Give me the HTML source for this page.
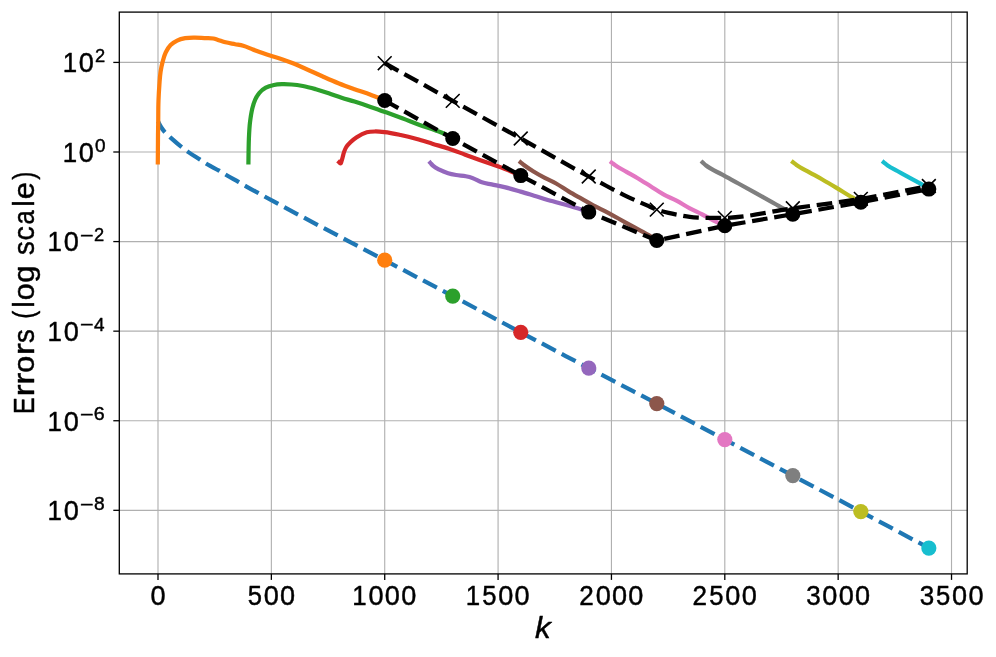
<!DOCTYPE html>
<html lang="en"><head><meta charset="utf-8"><title>Errors (log scale) vs k</title>
<style>html,body{margin:0;padding:0;background:#fff}body{width:996px;height:657px;overflow:hidden}svg{display:block;will-change:transform}text{font-family:"Liberation Sans",sans-serif;fill:#000;stroke:#000;stroke-width:0.45px;stroke-linejoin:round}</style>
</head><body>
<svg width="996" height="657" viewBox="0 0 996 657">
<rect x="0" y="0" width="996" height="657" fill="#ffffff"/>
<g stroke="#b0b0b0" stroke-width="1.13" fill="none">
<line x1="158.00" y1="12.10" x2="158.00" y2="573.90"/>
<line x1="271.36" y1="12.10" x2="271.36" y2="573.90"/>
<line x1="384.72" y1="12.10" x2="384.72" y2="573.90"/>
<line x1="498.08" y1="12.10" x2="498.08" y2="573.90"/>
<line x1="611.44" y1="12.10" x2="611.44" y2="573.90"/>
<line x1="724.80" y1="12.10" x2="724.80" y2="573.90"/>
<line x1="838.16" y1="12.10" x2="838.16" y2="573.90"/>
<line x1="951.52" y1="12.10" x2="951.52" y2="573.90"/>
<line x1="119.30" y1="62.42" x2="967.20" y2="62.42"/>
<line x1="119.30" y1="152.00" x2="967.20" y2="152.00"/>
<line x1="119.30" y1="241.58" x2="967.20" y2="241.58"/>
<line x1="119.30" y1="331.16" x2="967.20" y2="331.16"/>
<line x1="119.30" y1="420.74" x2="967.20" y2="420.74"/>
<line x1="119.30" y1="510.32" x2="967.20" y2="510.32"/>
</g>
<defs><clipPath id="ax"><rect x="119.30" y="12.10" width="847.90" height="561.80"/></clipPath></defs>
<g clip-path="url(#ax)" fill="none" stroke-linejoin="round">
<path id="blue" d="M158.00 121.30 C159.00 123.20 159.85 125.19 161.00 127.00 C162.07 128.69 163.31 130.27 164.60 131.80 C166.90 134.52 169.66 136.81 172.30 139.20 C175.40 142.01 178.60 144.73 181.90 147.30 C184.03 148.95 186.20 150.55 188.40 152.10 C192.07 154.68 195.92 156.98 199.70 159.40 C202.36 161.11 204.98 162.88 207.70 164.50 C211.38 166.69 215.29 168.46 219.00 170.60 C221.73 172.18 224.38 173.90 227.10 175.50 C230.83 177.70 234.65 179.74 238.40 181.90 C241.11 183.45 243.79 185.06 246.50 186.60 C250.47 188.85 254.50 191.01 258.50 193.20 C300.26 216.10 342.60 237.93 384.70 260.20 C407.36 272.19 430.05 284.09 452.70 296.10 C475.39 308.13 498.01 320.29 520.70 332.30 C543.34 344.29 566.01 356.21 588.70 368.10 C611.38 379.98 634.14 391.69 656.80 403.60 C679.50 415.53 702.13 427.60 724.80 439.60 C747.47 451.60 770.13 463.60 792.80 475.60 C815.47 487.60 838.16 499.55 860.80 511.60 C883.56 523.72 906.27 535.93 929.00 548.10" stroke="#1f77b4" stroke-width="4.23" stroke-dasharray="15.65 6.77" stroke-dashoffset="2.6"/>
<circle cx="384.72" cy="260.20" r="7.6" fill="#ff7f0e" stroke="none"/>
<circle cx="452.74" cy="296.10" r="7.6" fill="#2ca02c" stroke="none"/>
<circle cx="520.75" cy="332.30" r="7.6" fill="#d62728" stroke="none"/>
<circle cx="588.77" cy="368.10" r="7.6" fill="#9467bd" stroke="none"/>
<circle cx="656.78" cy="403.60" r="7.6" fill="#8c564b" stroke="none"/>
<circle cx="724.80" cy="439.60" r="7.6" fill="#e377c2" stroke="none"/>
<circle cx="792.82" cy="475.60" r="7.6" fill="#7f7f7f" stroke="none"/>
<circle cx="860.83" cy="511.60" r="7.6" fill="#bcbd22" stroke="none"/>
<circle cx="928.85" cy="548.10" r="7.6" fill="#17becf" stroke="none"/>
<path d="M157.81 162.39 C157.84 158.26 157.87 154.13 157.90 150.00 C157.93 145.00 157.94 140.00 158.00 135.00 C158.05 131.07 158.14 127.13 158.20 123.20 C158.32 115.67 158.21 108.13 158.50 100.60 C158.70 95.23 158.99 89.86 159.40 84.50 C159.73 80.19 159.93 75.87 160.60 71.60 C161.11 68.34 161.75 65.09 162.60 61.90 C163.47 58.64 164.30 55.32 165.80 52.30 C167.10 49.69 168.53 47.05 170.60 45.00 C172.46 43.16 174.74 41.73 177.10 40.60 C179.64 39.38 182.43 38.70 185.20 38.20 C188.35 37.63 191.60 37.72 194.80 37.70 C198.04 37.68 201.27 37.96 204.50 38.10 C207.47 38.23 210.50 37.87 213.40 38.50 C214.76 38.79 216.07 39.29 217.40 39.70 C220.11 40.53 222.76 41.58 225.50 42.30 C228.69 43.14 231.97 43.56 235.20 44.20 C237.87 44.73 240.58 45.07 243.20 45.80 C246.53 46.73 249.66 48.28 252.90 49.50 C256.13 50.71 259.35 51.96 262.60 53.10 C265.81 54.23 269.05 55.27 272.30 56.30 C275.49 57.31 278.73 58.15 281.90 59.20 C285.16 60.28 288.40 61.45 291.60 62.70 C296.51 64.61 301.28 66.87 306.10 69.00 C311.52 71.39 316.88 73.92 322.30 76.30 C327.65 78.65 332.98 81.03 338.40 83.20 C343.72 85.33 349.11 87.26 354.50 89.20 C359.85 91.13 365.28 92.79 370.60 94.80 C375.34 96.59 380.00 98.60 384.70 100.50" stroke="#ff7f0e" stroke-width="4.23" stroke-linecap="square"/>
<path d="M248.43 162.39 C248.49 158.26 248.52 154.13 248.60 150.00 C248.68 146.13 248.73 142.26 248.90 138.40 C249.13 133.03 249.36 127.64 250.00 122.30 C250.52 117.97 251.05 113.63 252.10 109.40 C252.94 106.00 253.77 102.55 255.30 99.40 C256.43 97.07 257.69 94.74 259.40 92.80 C261.20 90.75 263.41 89.01 265.80 87.70 C268.30 86.33 271.11 85.59 273.90 85.00 C276.52 84.45 279.22 84.31 281.90 84.20 C285.13 84.07 288.37 84.25 291.60 84.50 C295.39 84.79 299.16 85.31 302.90 86.00 C307.26 86.81 311.53 88.01 315.80 89.20 C320.14 90.41 324.42 91.79 328.70 93.20 C333.03 94.62 337.27 96.29 341.60 97.70 C345.87 99.09 350.21 100.25 354.50 101.60 C359.89 103.29 365.25 105.08 370.60 106.90 C376.02 108.74 381.41 110.67 386.80 112.60 C392.18 114.53 397.55 116.49 402.90 118.50 C408.28 120.52 413.60 122.73 419.00 124.70 C424.37 126.66 429.83 128.35 435.20 130.30 C438.41 131.47 441.73 132.41 444.80 133.90 C447.56 135.24 450.07 137.03 452.70 138.60" stroke="#2ca02c" stroke-width="4.23" stroke-linecap="square"/>
<path d="M339.20 162.30 C339.60 162.67 339.86 163.36 340.40 163.40 C341.22 163.47 341.18 161.96 341.50 161.20 C342.00 160.01 342.25 158.74 342.60 157.50 C343.13 155.64 343.45 153.72 344.10 151.90 C344.71 150.22 345.36 148.52 346.30 147.00 C347.47 145.11 349.10 143.54 350.70 142.00 C352.54 140.22 354.56 138.61 356.70 137.20 C359.82 135.14 363.17 133.21 366.80 132.30 C369.40 131.65 372.12 131.57 374.80 131.50 C378.04 131.41 381.28 131.76 384.50 132.10 C389.92 132.67 395.27 133.86 400.60 135.00 C406.04 136.16 411.44 137.52 416.80 139.00 C422.21 140.49 427.53 142.28 432.90 143.90 C438.26 145.52 443.69 146.93 449.00 148.70 C454.46 150.52 459.79 152.73 465.20 154.70 C470.02 156.46 474.86 158.17 479.70 159.90 C487.96 162.85 496.35 165.46 504.50 168.70 C509.96 170.87 515.30 173.30 520.70 175.60" stroke="#d62728" stroke-width="4.23" stroke-linecap="square"/>
<path d="M430.34 162.85 C431.19 163.77 431.97 164.76 432.90 165.60 C434.80 167.32 437.13 168.51 439.40 169.70 C442.17 171.15 445.11 172.29 448.10 173.20 C450.71 174.00 453.41 174.51 456.10 175.00 C459.31 175.59 462.60 175.66 465.80 176.30 C467.99 176.74 470.18 177.21 472.30 177.90 C475.65 178.99 478.56 181.20 481.90 182.30 C485.04 183.33 488.36 183.71 491.60 184.40 C495.90 185.32 500.23 186.07 504.50 187.10 C509.92 188.40 515.25 190.04 520.60 191.60 C526.02 193.18 531.40 194.88 536.80 196.50 C542.16 198.11 547.52 199.75 552.90 201.30 C558.25 202.85 563.65 204.24 569.00 205.80 C573.31 207.06 577.64 208.27 581.90 209.70 C584.18 210.46 586.43 211.30 588.70 212.10" stroke="#9467bd" stroke-width="4.23" stroke-linecap="square"/>
<path d="M520.64 162.34 C521.73 163.22 522.79 164.14 523.90 165.00 C526.95 167.37 530.22 169.46 533.50 171.50 C537.17 173.79 540.98 175.87 544.80 177.90 C548.51 179.87 552.42 181.46 556.10 183.50 C560.54 185.96 564.64 189.00 569.00 191.60 C573.24 194.13 577.60 196.47 581.90 198.90 C585.67 201.03 589.38 203.27 593.20 205.30 C596.20 206.90 599.28 208.34 602.30 209.90 C607.71 212.69 613.05 215.59 618.40 218.50 C623.79 221.43 629.13 224.43 634.50 227.40 C639.87 230.37 645.41 233.04 650.60 236.30 C652.70 237.62 654.73 239.03 656.80 240.40" stroke="#8c564b" stroke-width="4.23" stroke-linecap="square"/>
<path d="M611.68 162.59 C612.85 163.49 614.00 164.44 615.20 165.30 C618.73 167.83 622.73 169.64 626.50 171.80 C630.23 173.94 634.01 176.00 637.70 178.20 C642.06 180.80 646.30 183.60 650.60 186.30 C654.90 189.00 659.05 191.96 663.50 194.40 C667.71 196.71 672.25 198.36 676.50 200.60 C680.90 202.92 685.02 205.75 689.40 208.10 C693.63 210.37 698.03 212.30 702.30 214.50 C706.63 216.73 710.81 219.28 715.20 221.40 C718.36 222.93 721.60 224.27 724.80 225.70" stroke="#e377c2" stroke-width="4.23" stroke-linecap="square"/>
<path d="M702.59 162.40 C703.76 163.43 704.89 164.52 706.10 165.50 C710.92 169.41 716.88 171.68 722.30 174.70 C727.64 177.68 733.04 180.55 738.40 183.50 C743.77 186.45 749.13 189.43 754.50 192.40 C759.87 195.37 765.25 198.30 770.60 201.30 C774.91 203.71 779.24 206.10 783.50 208.60 C786.62 210.43 789.70 212.33 792.80 214.20" stroke="#7f7f7f" stroke-width="4.23" stroke-linecap="square"/>
<path d="M792.98 162.29 C794.15 163.19 795.30 164.14 796.50 165.00 C800.51 167.88 805.09 169.88 809.40 172.30 C813.69 174.71 818.03 177.06 822.30 179.50 C826.93 182.15 831.52 184.87 836.10 187.60 C841.52 190.83 846.86 194.21 852.30 197.40 C855.12 199.05 857.97 200.67 860.80 202.30" stroke="#bcbd22" stroke-width="4.23" stroke-linecap="square"/>
<path d="M883.75 162.32 C885.07 163.38 886.33 164.51 887.70 165.50 C890.71 167.68 894.15 169.19 897.40 171.00 C900.62 172.79 903.87 174.53 907.10 176.30 C910.33 178.07 913.58 179.81 916.80 181.60 C918.94 182.79 921.12 183.91 923.20 185.20 C925.18 186.42 927.07 187.80 929.00 189.10" stroke="#17becf" stroke-width="4.23" stroke-linecap="square"/>
<path d="M384.72 100.50 L452.74 138.50 L520.75 175.60 L588.77 212.10 L656.78 240.50 L724.80 225.80 L792.82 214.20 L860.83 202.30 L928.85 189.10" stroke="#000" stroke-width="4.23" stroke-dasharray="15.65 6.77"/>
<circle cx="384.72" cy="100.50" r="7.5" fill="#000" stroke="none"/>
<circle cx="452.74" cy="138.50" r="7.5" fill="#000" stroke="none"/>
<circle cx="520.75" cy="175.60" r="7.5" fill="#000" stroke="none"/>
<circle cx="588.77" cy="212.10" r="7.5" fill="#000" stroke="none"/>
<circle cx="656.78" cy="240.50" r="7.5" fill="#000" stroke="none"/>
<circle cx="724.80" cy="225.80" r="7.5" fill="#000" stroke="none"/>
<circle cx="792.82" cy="214.20" r="7.5" fill="#000" stroke="none"/>
<circle cx="860.83" cy="202.30" r="7.5" fill="#000" stroke="none"/>
<circle cx="928.85" cy="189.10" r="7.5" fill="#000" stroke="none"/>
<path d="M384.72 63.20 C407.39 75.77 430.06 88.35 452.74 100.90 C475.40 113.45 498.11 125.92 520.75 138.50 C543.45 151.12 565.90 164.19 588.77 176.50 C594.70 179.69 600.63 182.88 606.60 186.00 C613.27 189.49 619.91 193.04 626.70 196.30 C633.39 199.51 640.20 202.44 647.00 205.40 C650.25 206.82 653.43 208.44 656.78 209.60 C658.50 210.20 660.25 210.70 662.00 211.20 C664.15 211.82 666.32 212.37 668.50 212.90 C671.98 213.74 675.49 214.44 679.00 215.10 C682.59 215.78 686.18 216.46 689.80 216.90 C692.52 217.23 695.26 217.44 698.00 217.60 C700.20 217.73 702.40 217.79 704.60 217.85 C707.73 217.93 710.87 217.94 714.00 217.95 C717.60 217.96 721.20 217.98 724.80 217.90 C747.69 217.37 770.14 211.47 792.82 208.30 C815.48 205.13 838.25 202.60 860.83 198.90 C883.60 195.17 906.18 190.30 928.85 186.00" stroke="#000" stroke-width="4.23" stroke-dasharray="15.65 6.77"/>
<path d="M377.82 56.30L391.62 70.10M377.82 70.10L391.62 56.30" stroke="#000" stroke-width="1.6"/>
<path d="M445.84 94.00L459.64 107.80M445.84 107.80L459.64 94.00" stroke="#000" stroke-width="1.6"/>
<path d="M513.85 131.60L527.65 145.40M513.85 145.40L527.65 131.60" stroke="#000" stroke-width="1.6"/>
<path d="M581.87 169.60L595.67 183.40M581.87 183.40L595.67 169.60" stroke="#000" stroke-width="1.6"/>
<path d="M649.88 202.70L663.68 216.50M649.88 216.50L663.68 202.70" stroke="#000" stroke-width="1.6"/>
<path d="M717.90 211.00L731.70 224.80M717.90 224.80L731.70 211.00" stroke="#000" stroke-width="1.6"/>
<path d="M785.92 201.40L799.72 215.20M785.92 215.20L799.72 201.40" stroke="#000" stroke-width="1.6"/>
<path d="M853.93 192.00L867.73 205.80M853.93 205.80L867.73 192.00" stroke="#000" stroke-width="1.6"/>
<path d="M921.95 179.10L935.75 192.90M921.95 192.90L935.75 179.10" stroke="#000" stroke-width="1.6"/>
</g>
<rect x="119.30" y="12.10" width="847.90" height="561.80" fill="none" stroke="#000" stroke-width="1.3"/>
<g stroke="#000" stroke-width="1.3">
<line x1="158.00" y1="573.90" x2="158.00" y2="579.90"/>
<line x1="271.36" y1="573.90" x2="271.36" y2="579.90"/>
<line x1="384.72" y1="573.90" x2="384.72" y2="579.90"/>
<line x1="498.08" y1="573.90" x2="498.08" y2="579.90"/>
<line x1="611.44" y1="573.90" x2="611.44" y2="579.90"/>
<line x1="724.80" y1="573.90" x2="724.80" y2="579.90"/>
<line x1="838.16" y1="573.90" x2="838.16" y2="579.90"/>
<line x1="951.52" y1="573.90" x2="951.52" y2="579.90"/>
<line x1="113.30" y1="62.42" x2="119.30" y2="62.42"/>
<line x1="113.30" y1="152.00" x2="119.30" y2="152.00"/>
<line x1="113.30" y1="241.58" x2="119.30" y2="241.58"/>
<line x1="113.30" y1="331.16" x2="119.30" y2="331.16"/>
<line x1="113.30" y1="420.74" x2="119.30" y2="420.74"/>
<line x1="113.30" y1="510.32" x2="119.30" y2="510.32"/>
</g>
<g font-size="27.10">
<text y="604.9"><tspan x="150.47" textLength="15.07" lengthAdjust="spacingAndGlyphs">0</tspan></text>
<text y="604.9"><tspan x="247.65" textLength="14.22" lengthAdjust="spacingAndGlyphs">5</tspan><tspan x="263.68" textLength="15.07" lengthAdjust="spacingAndGlyphs">0</tspan><tspan x="280.03" textLength="15.07" lengthAdjust="spacingAndGlyphs">0</tspan></text>
<text y="604.9"><tspan x="352.31" textLength="14.39" lengthAdjust="spacingAndGlyphs">1</tspan><tspan x="368.45" textLength="15.07" lengthAdjust="spacingAndGlyphs">0</tspan><tspan x="384.80" textLength="15.07" lengthAdjust="spacingAndGlyphs">0</tspan><tspan x="401.15" textLength="15.07" lengthAdjust="spacingAndGlyphs">0</tspan></text>
<text y="604.9"><tspan x="465.67" textLength="14.39" lengthAdjust="spacingAndGlyphs">1</tspan><tspan x="482.13" textLength="14.22" lengthAdjust="spacingAndGlyphs">5</tspan><tspan x="498.16" textLength="15.07" lengthAdjust="spacingAndGlyphs">0</tspan><tspan x="514.51" textLength="15.07" lengthAdjust="spacingAndGlyphs">0</tspan></text>
<text y="604.9"><tspan x="579.22" textLength="14.52" lengthAdjust="spacingAndGlyphs">2</tspan><tspan x="595.64" textLength="15.07" lengthAdjust="spacingAndGlyphs">0</tspan><tspan x="611.99" textLength="15.07" lengthAdjust="spacingAndGlyphs">0</tspan><tspan x="628.34" textLength="15.07" lengthAdjust="spacingAndGlyphs">0</tspan></text>
<text y="604.9"><tspan x="692.58" textLength="14.52" lengthAdjust="spacingAndGlyphs">2</tspan><tspan x="709.32" textLength="14.22" lengthAdjust="spacingAndGlyphs">5</tspan><tspan x="725.35" textLength="15.07" lengthAdjust="spacingAndGlyphs">0</tspan><tspan x="741.70" textLength="15.07" lengthAdjust="spacingAndGlyphs">0</tspan></text>
<text y="604.9"><tspan x="806.30" textLength="14.47" lengthAdjust="spacingAndGlyphs">3</tspan><tspan x="822.32" textLength="15.07" lengthAdjust="spacingAndGlyphs">0</tspan><tspan x="838.67" textLength="15.07" lengthAdjust="spacingAndGlyphs">0</tspan><tspan x="855.02" textLength="15.07" lengthAdjust="spacingAndGlyphs">0</tspan></text>
<text y="604.9"><tspan x="919.66" textLength="14.47" lengthAdjust="spacingAndGlyphs">3</tspan><tspan x="936.00" textLength="14.22" lengthAdjust="spacingAndGlyphs">5</tspan><tspan x="952.03" textLength="15.07" lengthAdjust="spacingAndGlyphs">0</tspan><tspan x="968.38" textLength="15.07" lengthAdjust="spacingAndGlyphs">0</tspan></text>
</g>
<text font-size="27.10"><tspan x="62.65" y="72.22" textLength="14.39" lengthAdjust="spacingAndGlyphs">1</tspan><tspan x="78.79" y="72.22" textLength="15.07" lengthAdjust="spacingAndGlyphs">0</tspan><tspan x="94.95" y="62.02" font-size="18.97" textLength="10.17" lengthAdjust="spacingAndGlyphs">2</tspan></text>
<text font-size="27.10"><tspan x="62.65" y="161.80" textLength="14.39" lengthAdjust="spacingAndGlyphs">1</tspan><tspan x="78.79" y="161.80" textLength="15.07" lengthAdjust="spacingAndGlyphs">0</tspan><tspan x="95.00" y="151.60" font-size="18.97" textLength="10.55" lengthAdjust="spacingAndGlyphs">0</tspan></text>
<text font-size="27.10"><tspan x="47.55" y="251.38" textLength="14.39" lengthAdjust="spacingAndGlyphs">1</tspan><tspan x="63.69" y="251.38" textLength="15.07" lengthAdjust="spacingAndGlyphs">0</tspan><tspan x="80.06" y="241.88" font-size="18.97" textLength="13.54" lengthAdjust="spacingAndGlyphs">−</tspan><tspan x="94.00" y="241.18" font-size="18.97" textLength="10.17" lengthAdjust="spacingAndGlyphs">2</tspan></text>
<text font-size="27.10"><tspan x="47.55" y="340.96" textLength="14.39" lengthAdjust="spacingAndGlyphs">1</tspan><tspan x="63.69" y="340.96" textLength="15.07" lengthAdjust="spacingAndGlyphs">0</tspan><tspan x="80.06" y="331.46" font-size="18.97" textLength="13.54" lengthAdjust="spacingAndGlyphs">−</tspan><tspan x="94.04" y="330.76" font-size="18.97" textLength="10.55" lengthAdjust="spacingAndGlyphs">4</tspan></text>
<text font-size="27.10"><tspan x="47.55" y="430.54" textLength="14.39" lengthAdjust="spacingAndGlyphs">1</tspan><tspan x="63.69" y="430.54" textLength="15.07" lengthAdjust="spacingAndGlyphs">0</tspan><tspan x="80.06" y="421.04" font-size="18.97" textLength="13.54" lengthAdjust="spacingAndGlyphs">−</tspan><tspan x="93.86" y="420.34" font-size="18.97" textLength="10.92" lengthAdjust="spacingAndGlyphs">6</tspan></text>
<text font-size="27.10"><tspan x="47.55" y="520.12" textLength="14.39" lengthAdjust="spacingAndGlyphs">1</tspan><tspan x="63.69" y="520.12" textLength="15.07" lengthAdjust="spacingAndGlyphs">0</tspan><tspan x="80.06" y="510.62" font-size="18.97" textLength="13.54" lengthAdjust="spacingAndGlyphs">−</tspan><tspan x="93.99" y="509.92" font-size="18.97" textLength="10.66" lengthAdjust="spacingAndGlyphs">8</tspan></text>
<text y="638.2" font-size="30.20" font-style="italic"><tspan x="535.02" textLength="15.72" lengthAdjust="spacingAndGlyphs">k</tspan></text>
<text transform="translate(33.95 414.7) rotate(-90)" y="0" font-size="30.20"><tspan x="0.78" textLength="16.56" lengthAdjust="spacingAndGlyphs">E</tspan><tspan x="18.27" textLength="12.22" lengthAdjust="spacingAndGlyphs">r</tspan><tspan x="30.05" textLength="12.22" lengthAdjust="spacingAndGlyphs">r</tspan><tspan x="41.96" textLength="16.94" lengthAdjust="spacingAndGlyphs">o</tspan><tspan x="59.35" textLength="12.22" lengthAdjust="spacingAndGlyphs">r</tspan><tspan x="71.76" textLength="13.73" lengthAdjust="spacingAndGlyphs">s</tspan> <tspan x="95.96" textLength="8.06" lengthAdjust="spacingAndGlyphs">(</tspan><tspan x="106.90" textLength="6.51" lengthAdjust="spacingAndGlyphs">l</tspan><tspan x="114.44" textLength="16.94" lengthAdjust="spacingAndGlyphs">o</tspan><tspan x="131.94" textLength="17.32" lengthAdjust="spacingAndGlyphs">g</tspan> <tspan x="159.75" textLength="13.73" lengthAdjust="spacingAndGlyphs">s</tspan><tspan x="174.25" textLength="14.37" lengthAdjust="spacingAndGlyphs">c</tspan><tspan x="190.26" textLength="14.33" lengthAdjust="spacingAndGlyphs">a</tspan><tspan x="207.92" textLength="6.51" lengthAdjust="spacingAndGlyphs">l</tspan><tspan x="215.42" textLength="17.21" lengthAdjust="spacingAndGlyphs">e</tspan><tspan x="234.93" textLength="8.06" lengthAdjust="spacingAndGlyphs">)</tspan></text>
</svg></body></html>
